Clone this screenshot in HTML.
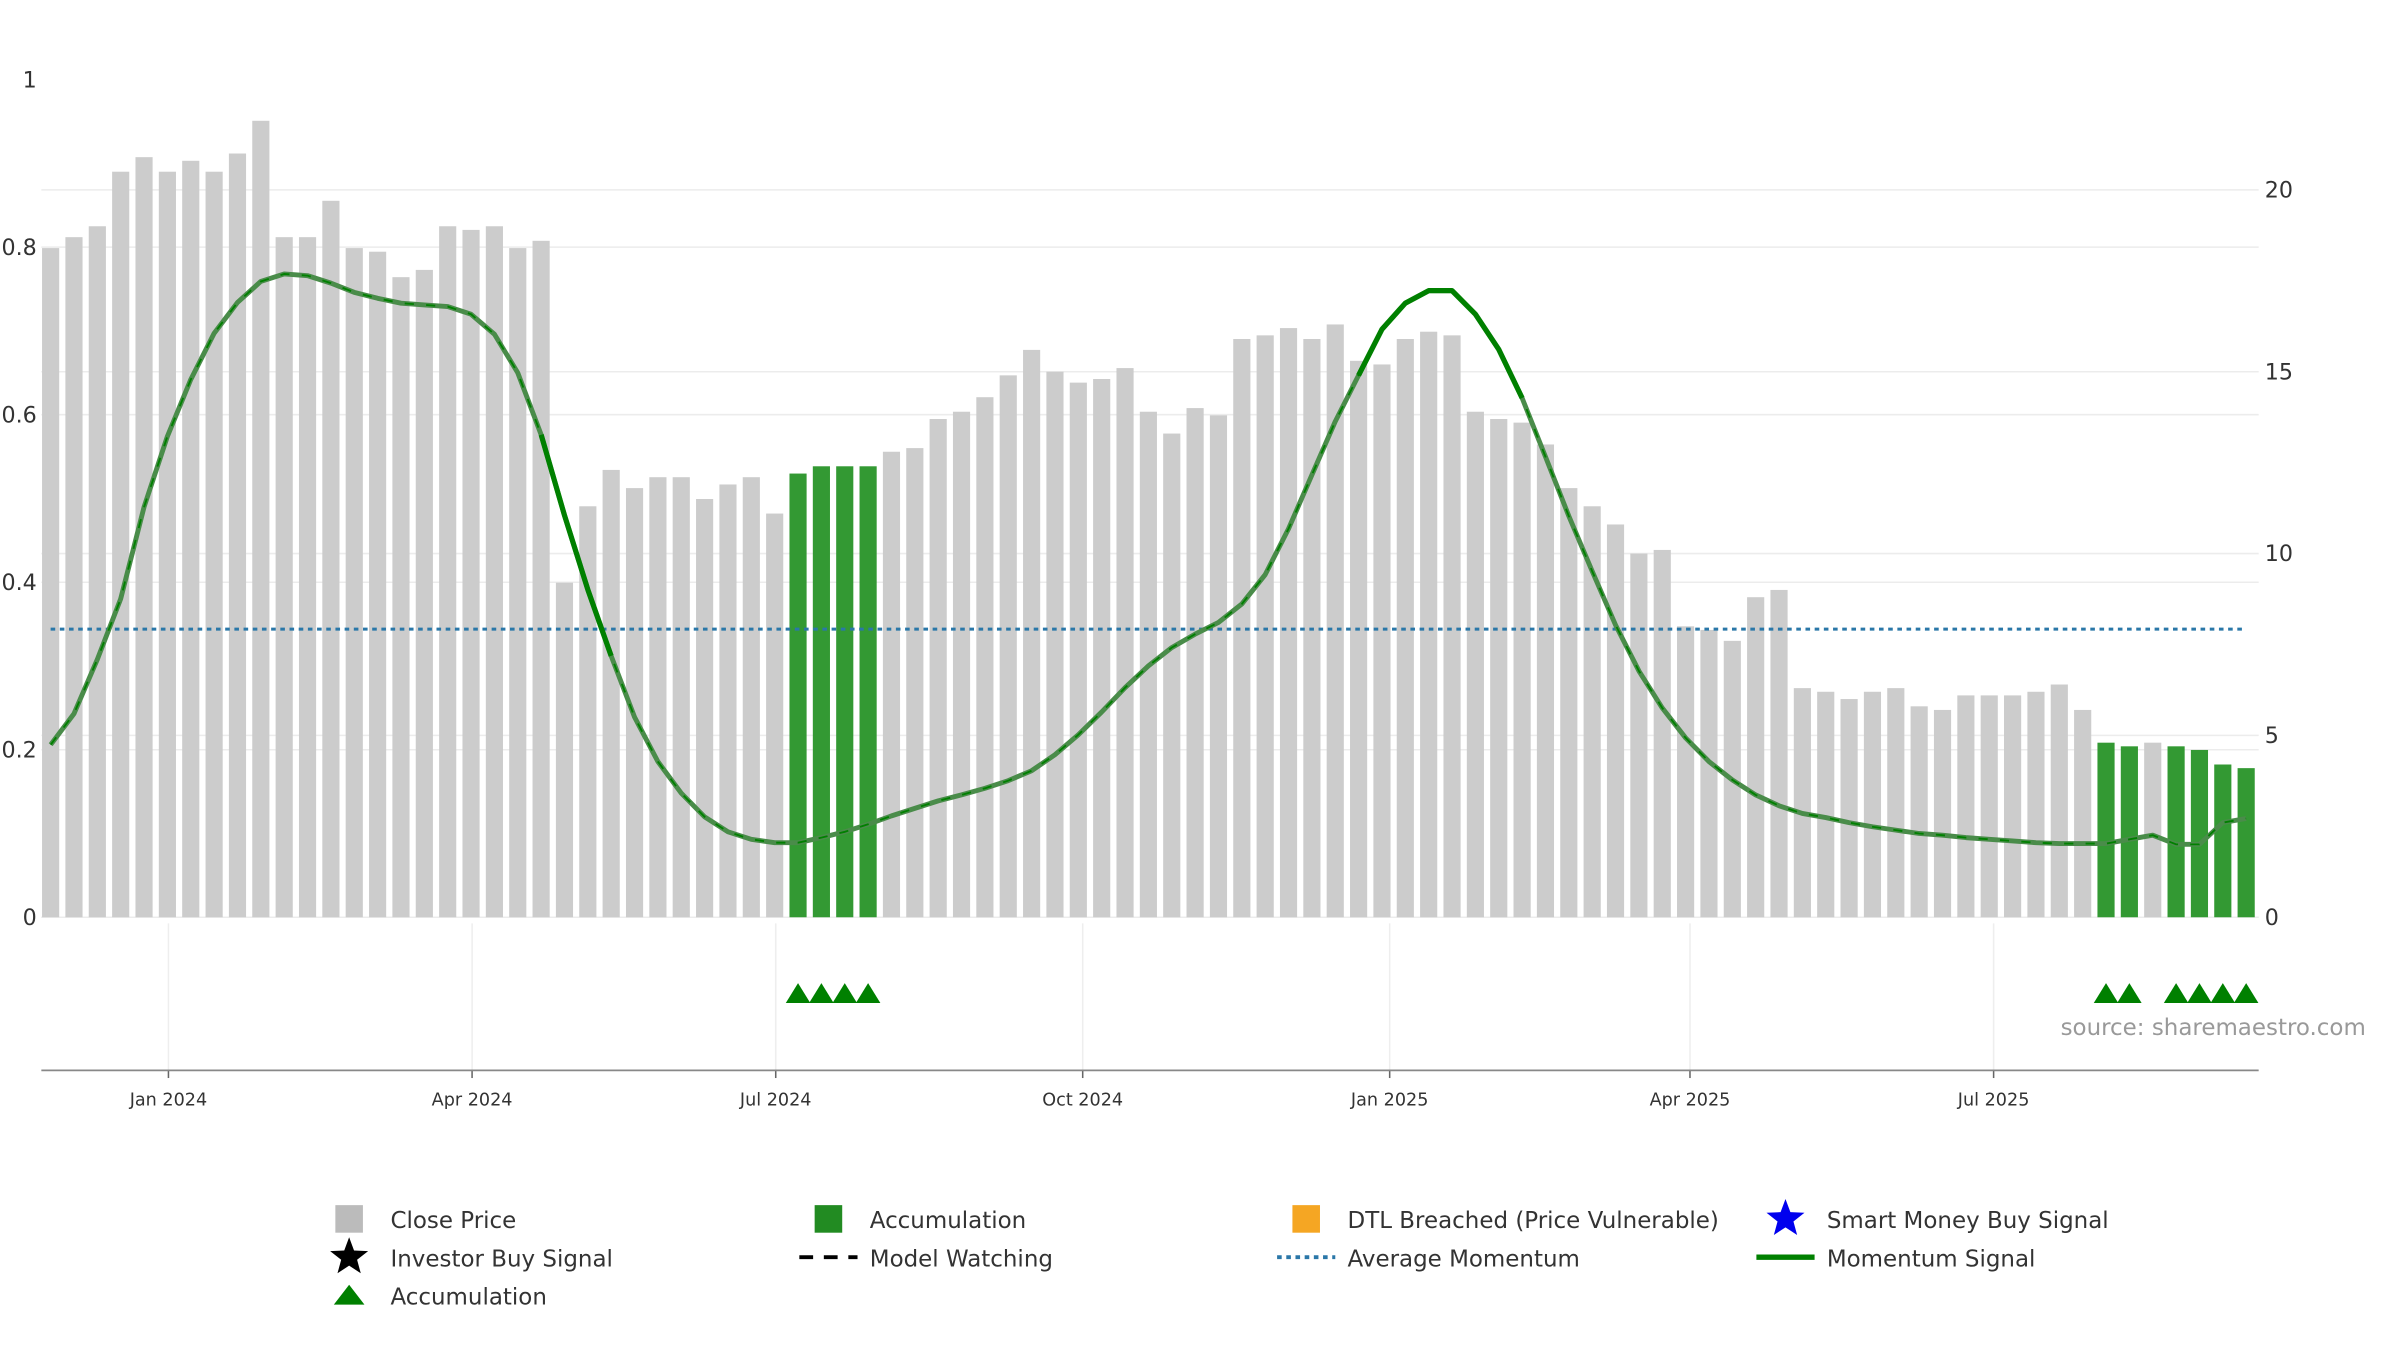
<!DOCTYPE html>
<html><head><meta charset="utf-8"><style>
html,body{margin:0;padding:0;background:#fff;}
svg{display:block;font-family:"DejaVu Sans","Liberation Sans",sans-serif;}
</style></head><body>
<svg id="chart" width="2400" height="1350" viewBox="0 0 1567.3 881.6" xmlns="http://www.w3.org/2000/svg">
<g id="grid"></g>
<g id="bars"></g>
<g id="lines"></g>
<g id="axes"></g>
<g id="marks"></g>
<text x="1545" y="676" text-anchor="end" font-size="15" fill="#999">source: sharemaestro.com</text>
<g id="legend"></g>
</svg>
<script>
const prices=[18.4,18.7,19.0,20.5,20.9,20.5,20.8,20.5,21.0,21.9,18.7,18.7,19.7,18.4,18.3,17.6,17.8,19.0,18.9,19.0,18.4,18.6,9.2,11.3,12.3,11.8,12.1,12.1,11.5,11.9,12.1,11.1,12.2,12.4,12.4,12.4,12.8,12.9,13.7,13.9,14.3,14.9,15.6,15.0,14.7,14.8,15.1,13.9,13.3,14.0,13.8,15.9,16.0,16.2,15.9,16.3,15.3,15.2,15.9,16.1,16.0,13.9,13.7,13.6,13.0,11.8,11.3,10.8,10.0,10.1,8.0,7.9,7.6,8.8,9.0,6.3,6.2,6.0,6.2,6.3,5.8,5.7,6.1,6.1,6.1,6.2,6.4,5.7,4.8,4.7,4.8,4.7,4.6,4.2,4.1];
const momentum=[0.206,0.243,0.308,0.380,0.490,0.574,0.642,0.697,0.734,0.759,0.768,0.766,0.757,0.746,0.739,0.733,0.731,0.729,0.720,0.696,0.650,0.576,0.480,0.391,0.312,0.239,0.186,0.148,0.120,0.102,0.093,0.089,0.089,0.095,0.102,0.111,0.121,0.130,0.139,0.146,0.154,0.163,0.175,0.194,0.218,0.245,0.274,0.300,0.322,0.338,0.352,0.374,0.409,0.464,0.528,0.592,0.647,0.702,0.733,0.748,0.748,0.720,0.678,0.620,0.550,0.479,0.413,0.349,0.294,0.250,0.214,0.186,0.164,0.146,0.133,0.124,0.119,0.113,0.108,0.104,0.100,0.098,0.095,0.093,0.091,0.089,0.088,0.088,0.088,0.093,0.098,0.087,0.087,0.113,0.118];
const accum=[32,33,34,35,88,89,91,92,93,94];
const signalRanges=[[21,24],[56,63]];
const avgMomentum=0.344;
const leftTicks=[0,0.2,0.4,0.6,0.8,1];
const leftTickLabels=["0","0.2","0.4","0.6","0.8","1"];
const rightTicks=[0,5,10,15,20];
const xTickDates=["2024-01-01","2024-04-01","2024-07-01","2024-10-01","2025-01-01","2025-04-01","2025-07-01"];
const xTickLabels=["Jan 2024","Apr 2024","Jul 2024","Oct 2024","Jan 2025","Apr 2025","Jul 2025"];
const startDate="2023-11-26";

const NS="http://www.w3.org/2000/svg";
function mk(tag,attrs,parent){const e=document.createElementNS(NS,tag);for(const k in attrs)e.setAttribute(k,attrs[k]);parent.appendChild(e);return e;}
const DAY=86400000, base=Date.parse("2024-01-01");
function xDate(s){return 110+(Date.parse(s)-base)/DAY*2.179;}
function xBar(i){return xDate(startDate)+1.5+i*7*2.179;}
function yL(v){return 599-v*547;}
function yR(v){return 599-v*23.75;}
const X0=27,X1=1475;
const grid=document.getElementById('grid'),bars=document.getElementById('bars'),lines=document.getElementById('lines'),axes=document.getElementById('axes'),marks=document.getElementById('marks'),legend=document.getElementById('legend');

leftTicks.forEach((t,i)=>{
 if(t<1){
 const g=mk('line',{x1:X0,x2:X1,y1:yL(t),y2:yL(t),stroke:'#ececec','stroke-width':1},grid);
 }
 const tx=mk('text',{x:24,y:yL(t)+5,'text-anchor':'end','font-size':14.5,fill:'#333'},axes);
 tx.textContent=leftTickLabels[i];
 
});
rightTicks.forEach(t=>{
 const g=mk('line',{x1:X0,x2:X1,y1:yR(t),y2:yR(t),stroke:'#ececec','stroke-width':1},grid);
 
 const tx=mk('text',{x:1479,y:yR(t)+5,'font-size':14.5,fill:'#333'},axes);
 tx.textContent=String(t);
 
});
xTickDates.forEach((d,i)=>{
 const x=xDate(d);
 const v=mk('line',{x1:x,x2:x,y1:603,y2:699,stroke:'#eeeeee','stroke-width':1},grid);
 
 const tk=mk('line',{x1:x,x2:x,y1:699,y2:704,stroke:'#666','stroke-width':1},axes);
 
 const tx=mk('text',{x:x,y:722,'text-anchor':'middle','font-size':11.5,fill:'#333'},axes);
 tx.textContent=xTickLabels[i];
 
});
const ax=mk('line',{x1:X0,x2:X1,y1:699,y2:699,stroke:'#888','stroke-width':1.2},axes);


prices.forEach((p,i)=>{
 const isA=accum.includes(i);
 const r=mk('rect',{x:xBar(i)-5.6,y:yR(p),width:11.2,height:yR(0)-yR(p),fill:isA?'#339933':'#cccccc'},bars);
 
 
});

const avg=mk('line',{x1:xBar(0),x2:xBar(prices.length-1),y1:yL(avgMomentum),y2:yL(avgMomentum),stroke:'#2a77a8','stroke-width':2,'stroke-dasharray':'3,3'},lines);


const pts=momentum.map((v,i)=>xBar(i).toFixed(1)+','+yL(v).toFixed(1)).join(' ');
const ml=mk('polyline',{points:pts,fill:'none',stroke:'#4a8c4a','stroke-width':3.2,'stroke-linejoin':'round'},lines);

const md=mk('polyline',{points:pts,fill:'none',stroke:'#008000','stroke-width':1.2,'stroke-dasharray':'6,8'},lines);

signalRanges.forEach(([a,b])=>{
 const p=momentum.slice(a,b+1).map((v,k)=>xBar(a+k).toFixed(1)+','+yL(v).toFixed(1)).join(' ');
 const s=mk('polyline',{points:p,fill:'none',stroke:'#008000','stroke-width':3.4,'stroke-linejoin':'round'},lines);
 
});

accum.forEach(i=>{
 const x=xBar(i),y=649;
 const t=mk('polygon',{points:`${x-8},${y+6} ${x},${y-7} ${x+8},${y+6}`,fill:'#008000'},marks);
 
});

const items=[
 [228,796,'rect','#bbbbbb','Close Price'],[541,796,'rect','#228b22','Accumulation'],[853,796,'rect','#f5a623','DTL Breached (Price Vulnerable)'],[1166,796,'star','#0000ee','Smart Money Buy Signal'],
 [228,821,'star','#000','Investor Buy Signal'],[541,821,'dash','#000','Model Watching'],[853,821,'dot','#2a77a8','Average Momentum'],[1166,821,'line','#008000','Momentum Signal'],
 [228,846,'tri','#008000','Accumulation']];
function star(cx,cy,R){let p=[];for(let k=0;k<10;k++){const r=k%2?R*0.42:R;const a=-Math.PI/2+k*Math.PI/5;p.push((cx+r*Math.cos(a)).toFixed(1)+','+(cy+r*Math.sin(a)).toFixed(1));}return p.join(' ');}
items.forEach(([x,y,type,c,label])=>{
 const g=mk('g',{},legend);
 
 if(type==='rect')mk('rect',{x:x-9,y:y-9,width:18,height:18,fill:c},g);
 else if(type==='star')mk('polygon',{points:star(x,y,13),fill:c},g);
 else if(type==='dash')mk('line',{x1:x-19,x2:x+19,y1:y,y2:y,stroke:c,'stroke-width':2.5,'stroke-dasharray':'9,7'},g);
 else if(type==='dot')mk('line',{x1:x-19,x2:x+19,y1:y,y2:y,stroke:c,'stroke-width':2.5,'stroke-dasharray':'3,3'},g);
 else if(type==='line')mk('line',{x1:x-19,x2:x+19,y1:y,y2:y,stroke:c,'stroke-width':3.5},g);
 else if(type==='tri')mk('polygon',{points:`${x-10},${y+6} ${x},${y-7} ${x+10},${y+6}`,fill:c},g);
 const t=mk('text',{x:x+27,y:y+6,'font-size':15,fill:'#333'},g);t.textContent=label;
});
</script>
</body></html>
